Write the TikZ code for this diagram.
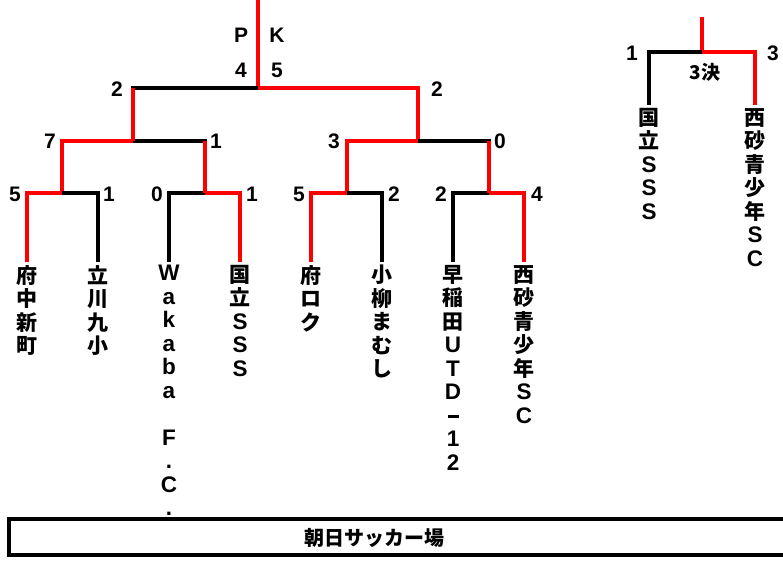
\documentclass[tikz,border=0pt]{standalone}
\usepackage{fontspec}
\setmainfont{Noto Sans CJK JP}
\newfontfamily\latinfont{Liberation Sans}
\newcommand{\LATIN}[1]{{\latinfont\bfseries\fontsize{22.5}{23.5}\selectfont #1}}

\tikzstyle{WIN_LINE}  = [draw=red, line width=3.5pt]
\tikzstyle{LOSE_LINE} = [draw=black, line width=3.5pt]
\tikzstyle{SCORE}     = [inner sep=0pt, font=\latinfont\bfseries\fontsize{21}{21}\selectfont]
\tikzstyle{TEAM}      = [anchor=north, align=center, inner sep=3pt, font=\bfseries\fontsize{21}{23.5}\selectfont]
\tikzstyle{VENUE_BOX} = [draw, line width=4pt, fill=white, minimum width=791pt, minimum height=36pt]

\begin{document}
\begin{tikzpicture}[x=1pt, y=-1pt]
  \useasboundingbox (0,0) rectangle (783,562);

  % junctions
  \coordinate (TOP_F) at (258,0);
  \coordinate (J_F)   at (258,88);
  \coordinate (J_S1)  at (133,141);
  \coordinate (J_S2)  at (418,141);
  \coordinate (J_Q1)  at (62,193);
  \coordinate (J_Q2)  at (205,193);
  \coordinate (J_Q3)  at (347,193);
  \coordinate (J_Q4)  at (489,193);
  \coordinate (TOP_3) at (702,17);
  \coordinate (J_3)   at (702,52);

  % teams
  \node[TEAM] (TEAM_1) at (27,262)  {府\\中\\新\\町};
  \node[TEAM] (TEAM_2) at (98,262)  {立\\川\\九\\小};
  \node[TEAM] (TEAM_3) at (169,262) {\LATIN{W}\\\LATIN{a}\\\LATIN{k}\\\LATIN{a}\\\LATIN{b}\\\LATIN{a}\\　\\\LATIN{F}\\\LATIN{.}\\\LATIN{C}\\\LATIN{.}};
  \node[TEAM] (TEAM_4) at (240,262) {国\\立\\\LATIN{S}\\\LATIN{S}\\\LATIN{S}};
  \node[TEAM] (TEAM_5) at (311,262) {府\\ロ\\ク};
  \node[TEAM] (TEAM_6) at (382,262) {小\\柳\\ま\\む\\し};
  \node[TEAM] (TEAM_7) at (453,262) {早\\稲\\田\\\LATIN{U}\\\LATIN{T}\\\LATIN{D}\\\rule[5pt]{11pt}{3.5pt}\\\LATIN{1}\\\LATIN{2}};
  \node[TEAM] (TEAM_8) at (524,262) {西\\砂\\青\\少\\年\\\LATIN{S}\\\LATIN{C}};
  \node[TEAM] (TEAM_3RD_1) at (649,105) {国\\立\\\LATIN{S}\\\LATIN{S}\\\LATIN{S}};
  \node[TEAM] (TEAM_3RD_2) at (755,105) {西\\砂\\青\\少\\年\\\LATIN{S}\\\LATIN{C}};

  % final
  \draw[WIN_LINE]  (TOP_F) -- (J_F);
  \draw[LOSE_LINE] (J_F) -| (J_S1);
  \draw[WIN_LINE]  (J_F) -| (J_S2);
  % semi finals
  \draw[WIN_LINE]  (J_S1) -| (J_Q1);
  \draw[LOSE_LINE] (J_S1) -| (J_Q2);
  \draw[WIN_LINE]  (J_S2) -| (J_Q3);
  \draw[LOSE_LINE] (J_S2) -| (J_Q4);
  % quarter finals
  \draw[WIN_LINE]  (J_Q1) -| (TEAM_1.north);
  \draw[LOSE_LINE] (J_Q1) -| (TEAM_2.north);
  \draw[LOSE_LINE] (J_Q2) -| (TEAM_3.north);
  \draw[WIN_LINE]  (J_Q2) -| (TEAM_4.north);
  \draw[WIN_LINE]  (J_Q3) -| (TEAM_5.north);
  \draw[LOSE_LINE] (J_Q3) -| (TEAM_6.north);
  \draw[LOSE_LINE] (J_Q4) -| (TEAM_7.north);
  \draw[WIN_LINE]  (J_Q4) -| (TEAM_8.north);
  % winners going up
  \draw[WIN_LINE]  (J_S1) -- (J_S1 |- J_F);
  \draw[WIN_LINE]  (J_Q2) -- (J_Q2 |- J_S1);
  \draw[WIN_LINE]  (J_Q4) -- (J_Q4 |- J_S2);
  % third place match
  \draw[WIN_LINE]  (TOP_3) -- (J_3);
  \draw[LOSE_LINE] (J_3) -| (TEAM_3RD_1.north);
  \draw[WIN_LINE]  (J_3) -| (TEAM_3RD_2.north);

  % scores
  \node[SCORE] (PK_P)   at (241,35)  {P};
  \node[SCORE] (PK_K)   at (277,35)  {K};
  \node[SCORE] (PK_L)   at (241,70)  {4};
  \node[SCORE] (PK_R)   at (277,70)  {5};
  \node[SCORE] (SC_F_L) at (117,89)  {2};
  \node[SCORE] (SC_F_R) at (437,89)  {2};
  \node[SCORE] (SC_S1_L) at (50,141)  {7};
  \node[SCORE] (SC_S1_R) at (216,141) {1};
  \node[SCORE] (SC_S2_L) at (334,141) {3};
  \node[SCORE] (SC_S2_R) at (500,141) {0};
  \node[SCORE] (SC_Q1_L) at (15,194)  {5};
  \node[SCORE] (SC_Q1_R) at (109,194) {1};
  \node[SCORE] (SC_Q2_L) at (157,194) {0};
  \node[SCORE] (SC_Q2_R) at (252,194) {1};
  \node[SCORE] (SC_Q3_L) at (299,194) {5};
  \node[SCORE] (SC_Q3_R) at (394,194) {2};
  \node[SCORE] (SC_Q4_L) at (441,194) {2};
  \node[SCORE] (SC_Q4_R) at (537,194) {4};
  \node[SCORE] (SC_3_L)  at (632,53)  {1};
  \node[SCORE] (SC_3_R)  at (773,53)  {3};
  \node[inner sep=0pt, font=\bfseries\fontsize{19}{19}\selectfont] (THIRD_TAG) at (705,72) {3決};

  % venue
  \node[VENUE_BOX] (VENUE_BOX) at (404.5,537) {};
  \node[font=\bfseries\fontsize{20}{20}\selectfont] (VENUE) at (374,538) {朝日サッカー場};
\end{tikzpicture}
\end{document}
